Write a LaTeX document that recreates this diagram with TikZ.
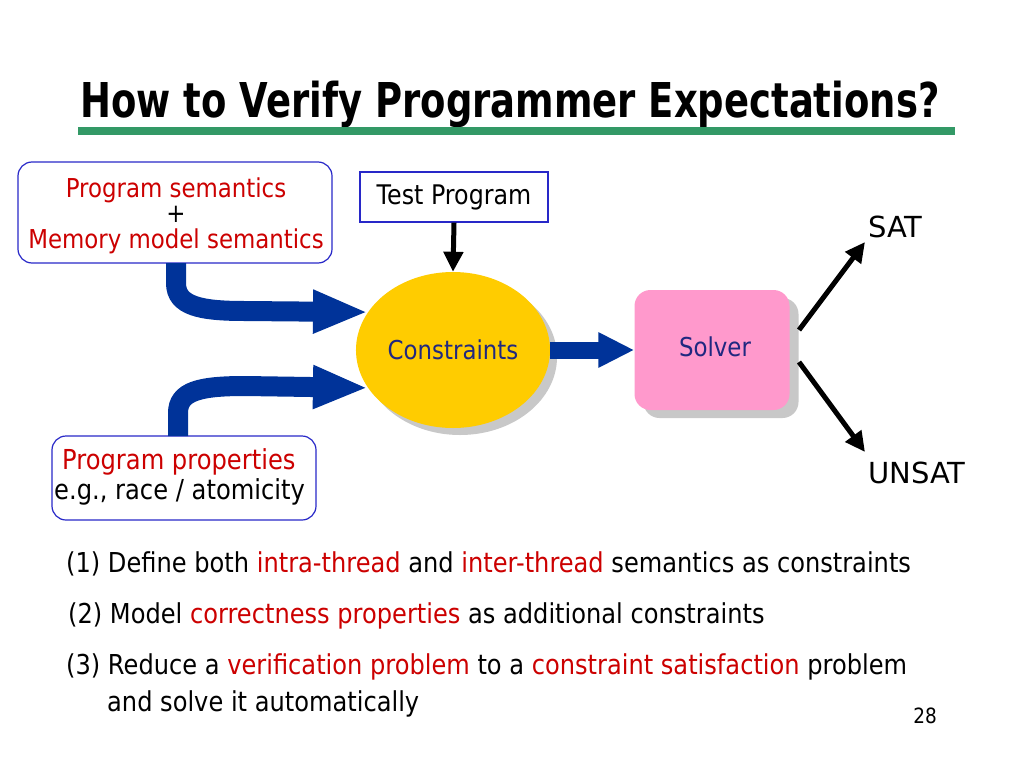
\documentclass[tikz,border=0pt]{standalone}
\usepackage{fontspec}
\setmainfont{DejaVu Sans}[FakeStretch=0.88]
\newfontfamily\titlefont{DejaVu Sans Bold}[FakeStretch=0.77]
\newfontfamily\widefont{DejaVu Sans}
\usetikzlibrary{arrows.meta,shapes.geometric,shadows,calc}
\definecolor{txtred}{RGB}{204,0,0}
\definecolor{navytxt}{RGB}{32,40,128}
\definecolor{arrowblue}{RGB}{0,51,153}
\definecolor{boxblue}{RGB}{40,40,200}
\definecolor{rulegreen}{RGB}{51,153,102}
\definecolor{cyellow}{RGB}{255,204,0}
\definecolor{spink}{RGB}{255,153,204}
\definecolor{shadowgray}{RGB}{200,200,200}
\tikzset{
  rbox/.style={draw=boxblue,line width=1.2pt,rounded corners=14pt,fill=white},
  sqbox/.style={draw=boxblue,line width=1.2pt,fill=white},
  bodytxt/.style={font=\fontsize{26}{28}\selectfont},
  proptxt/.style={font=\fontsize{27.5}{29}\selectfont,anchor=base west,inner sep=0pt},
  outtxt/.style={font=\widefont\fontsize{29}{31}\selectfont,anchor=base west,inner sep=0pt},
  linetxt/.style={font=\fontsize{27.4}{30}\selectfont,anchor=base west,inner sep=0pt},
  bigblue/.style={draw=arrowblue,line width=20pt,-{Triangle[length=55pt,width=40pt]}},
  blackarr/.style={draw=black,line width=5pt,-{Triangle[length=20pt,width=19pt]}},
}
\begin{document}
\begin{tikzpicture}[x=1pt,y=-1pt]
\useasboundingbox[fill=white] (0,0) rectangle (1024,768);
% title
\node[font=\titlefont\fontsize{48}{50}\selectfont,anchor=base,inner sep=0pt] (title) at (510,117) {How to Verify Programmer Expectations?};
\fill[rulegreen] (78,127) rectangle (955,135);
% boxes
\node[rbox,minimum width=314pt,minimum height=101pt] (sem) at (175,212.5) {};
\node[align=center,text=txtred,font=\fontsize{26}{25.5}\selectfont] (semtxt) at (176,215.5)
  {Program semantics\\\textcolor{black}{+}\\Memory model semantics};
\node[sqbox,minimum width=188pt,minimum height=50pt,font=\fontsize{27}{29}\selectfont] (test) at (454,197) {Test Program};
\node[ellipse,fill=cyellow,minimum width=190pt,minimum height=156pt,bodytxt,text=navytxt,
      drop shadow={shadow xshift=7pt,shadow yshift=-7pt,fill=shadowgray,opacity=1}] (cons) at (453,350) {Constraints};
\node[fill=spink,rounded corners=16pt,minimum width=155pt,minimum height=120pt,
      drop shadow={shadow xshift=9pt,shadow yshift=-8pt,fill=shadowgray,opacity=1}] (sol) at (712,350) {};
\node[bodytxt,text=navytxt] (soltxt) at (715,347) {Solver};
\node[outtxt] (sat) at (868,237) {SAT};
\node[outtxt] (unsat) at (868,483) {UNSAT};
\node[rbox,minimum width=264pt,minimum height=84pt] (prop) at (184,478) {};
\node[proptxt,text=txtred] (p1) at (62,469) {Program properties};
\node[proptxt] (p2) at (54,499) {e.g., race / atomicity};
% connectors
\coordinate (a1s) at (176,263);
\coordinate (a2s) at (178,436);
\draw[bigblue] (a1s) -- (176,283) .. controls (176,306) and (200,311) .. (245,311) -- (cons.156);
\draw[bigblue] (a2s) -- (178,413) .. controls (178,391) and (200,386) .. (245,386) -- (cons.204);
\draw[draw=arrowblue,line width=17pt,-{Triangle[length=36pt,width=33pt]}] (cons.east) -- (sol.west);
\draw[blackarr] (test.south) -- (cons.north);
\coordinate (b1) at (799,330);
\coordinate (b2) at (799,362);
\coordinate (t1) at (865,242);
\coordinate (t2) at (865,452);
\draw[blackarr] (b1) -- (t1);
\draw[blackarr] (b2) -- (t2);
% bottom lines
\node[linetxt] (l1) at (66,572) {(1) Define both \textcolor{txtred}{intra-thread} and \textcolor{txtred}{inter-thread} semantics as constraints};
\node[linetxt] (l2) at (68,623) {(2) Model \textcolor{txtred}{correctness properties} as additional constraints};
\node[linetxt] (l3) at (66,674) {(3) Reduce a \textcolor{txtred}{verification problem} to a \textcolor{txtred}{constraint satisfaction} problem};
\node[linetxt] (l4) at (107,711) {and solve it automatically};
\node[font=\fontsize{21}{23}\selectfont] (pg) at (925,716) {28};
\end{tikzpicture}
\end{document}
